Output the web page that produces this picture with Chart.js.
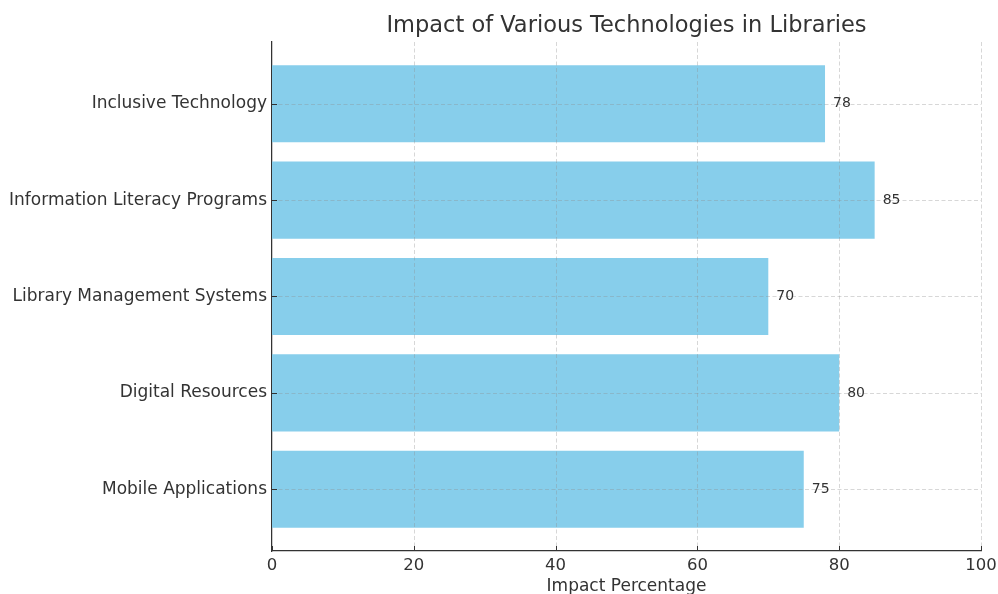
<!DOCTYPE html>
<html>
<head>
<meta charset="utf-8">
<script src="https://cdn.jsdelivr.net/npm/chart.js@4.4.0/dist/chart.umd.min.js"></script>
<style>
  html, body { margin: 0; padding: 0; background: #fff; }
  #wrap { width: 998px; height: 594px; }
</style>
</head>
<body>
<div id="wrap"><canvas id="c"></canvas></div>
<script>
// bottom-to-top order, same as the matplotlib source
const categories = ['Mobile Applications', 'Digital Resources', 'Library Management Systems',
  'Information Literacy Programs', 'Inclusive Technology'];
const impact = [75, 80, 70, 85, 78];
const xTicks = [0, 20, 40, 60, 80, 100];

const FONT = "'DejaVu Sans', sans-serif";
const TEXT = '#333';

// dashed grid over the bars, inward tick marks, value labels
const overlay = {
  id: 'overlay',
  afterDatasetsDraw(chart) {
    const { ctx, chartArea: a, scales: { x, y } } = chart;
    ctx.save();
    ctx.lineWidth = 1;
    ctx.strokeStyle = 'rgba(140,140,140,0.35)';
    ctx.setLineDash([4, 2.5]);
    xTicks.forEach(v => {
      if (v === 0) return;
      const px = Math.round(x.getPixelForValue(v)) + 0.5;
      ctx.beginPath(); ctx.moveTo(px, a.top); ctx.lineTo(px, a.bottom); ctx.stroke();
    });
    categories.forEach((_, i) => {
      const py = Math.round(y.getPixelForValue(i)) + 0.5;
      ctx.beginPath(); ctx.moveTo(a.left, py); ctx.lineTo(a.right, py); ctx.stroke();
    });
    ctx.setLineDash([]);
    ctx.strokeStyle = TEXT;
    xTicks.forEach(v => {
      const px = Math.round(x.getPixelForValue(v)) + 0.5;
      ctx.beginPath(); ctx.moveTo(px, a.bottom); ctx.lineTo(px, a.bottom - 5); ctx.stroke();
    });
    categories.forEach((_, i) => {
      const py = Math.round(y.getPixelForValue(i)) + 0.5;
      ctx.beginPath(); ctx.moveTo(a.left, py); ctx.lineTo(a.left + 5, py); ctx.stroke();
    });
    ctx.fillStyle = TEXT;
    ctx.font = '14px ' + FONT;
    ctx.textBaseline = 'middle';
    chart.getDatasetMeta(0).data.forEach((bar, i) => {
      ctx.fillText(String(impact[i]), bar.x + 8, bar.y);
    });
    ctx.restore();
  }
};

new Chart(document.getElementById('c'), {
  type: 'bar',
  data: {
    datasets: [{
      data: impact.map((v, i) => ({ x: v, y: i })),
      backgroundColor: '#87CEEB',
      borderWidth: 0,
      barPercentage: 0.8,
      categoryPercentage: 1
    }]
  },
  options: {
    indexAxis: 'y',
    responsive: true,
    maintainAspectRatio: false,
    animation: false,
    layout: { padding: { left: 0, right: 17, top: 0, bottom: 0 } },
    plugins: {
      legend: { display: false },
      tooltip: { enabled: false }
    },
    scales: {
      // top axis only carries the chart title, so it is centred over the plot area
      top: {
        type: 'linear',
        position: 'top',
        min: 0, max: 100,
        ticks: { display: false },
        grid: { display: false, drawTicks: false },
        border: { display: false },
        title: {
          display: true, text: 'Impact of Various Technologies in Libraries', color: TEXT,
          font: { family: FONT, size: 22.5, lineHeight: 1 }, padding: { top: 14.5, bottom: 0 }
        },
        afterFit(s) { s.height = 42; s.paddingLeft = 0; s.paddingRight = 0; }
      },
      x: {
        type: 'linear',
        position: 'bottom',
        min: 0, max: 100,
        ticks: { stepSize: 20, padding: 5, color: TEXT, font: { family: FONT, size: 16.5 } },
        grid: { display: false, drawTicks: false },
        border: { display: true, color: TEXT, width: 1.25 },
        title: {
          display: true, text: 'Impact Percentage', color: TEXT,
          font: { family: FONT, size: 17, lineHeight: 0.85 }, padding: 0
        },
        afterFit(s) { s.height = 43; s.paddingLeft = 0; s.paddingRight = 0; }
      },
      y: {
        type: 'linear',
        min: -0.64, max: 4.64,
        offset: false,
        afterBuildTicks(s) { s.ticks = categories.map((_, i) => ({ value: i })); },
        ticks: {
          padding: 5, color: TEXT, font: { family: FONT, size: 17 },
          callback: v => categories[v]
        },
        grid: { display: false, drawTicks: false },
        border: { display: true, color: TEXT, width: 1.25 },
        afterFit(s) { s.width = 272; s.paddingTop = 0; s.paddingBottom = 0; }
      }
    }
  },
  plugins: [overlay]
});
</script>
</body>
</html>
